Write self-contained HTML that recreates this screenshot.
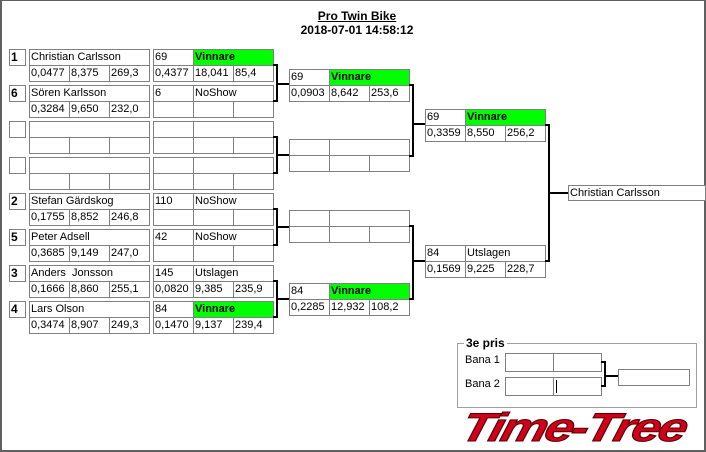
<!DOCTYPE html>
<html><head><meta charset="utf-8"><style>
html,body{margin:0;padding:0;background:#fff}
#w{position:relative;width:706px;height:452px;overflow:hidden;font-family:"Liberation Sans",sans-serif;font-size:11px;color:#000}
.c{position:absolute;border:1px solid #808080;box-sizing:border-box;height:17px;line-height:15px;padding-left:1px;background:#fff;white-space:nowrap;overflow:hidden}
.g{background:#00ff00;font-weight:bold}
.s{font-weight:bold;font-size:12px}
.l{position:absolute;background:#000}
</style></head><body><div id="w">
<div style="position:absolute;left:0;top:0;width:706px;height:452px;box-sizing:border-box;border-left:2px solid #606060;border-top:1px solid #606060;border-right:2px solid #606060;border-bottom:2px solid #606060"></div>
<div style="position:absolute;left:0;width:714px;top:9px;text-align:center;font-weight:bold;font-size:12px;line-height:14px"><span style="text-decoration:underline">Pro Twin Bike</span><br>2018-07-01 14:58:12</div>

<div class="c s" style="left:9px;top:49px;width:17px">1</div>
<div class="c" style="left:29px;top:49px;width:121px">Christian Carlsson</div>
<div class="c" style="left:29px;top:65px;width:41px">0,0477</div><div class="c" style="left:69px;top:65px;width:41px">8,375</div><div class="c" style="left:109px;top:65px;width:41px">269,3</div>
<div class="c" style="left:153px;top:49px;width:41px">69</div><div class="c g" style="left:193px;top:49px;width:81px">Vinnare</div>
<div class="c" style="left:153px;top:65px;width:41px">0,4377</div><div class="c" style="left:193px;top:65px;width:41px">18,041</div><div class="c" style="left:233px;top:65px;width:41px">85,4</div>

<div class="c s" style="left:9px;top:85px;width:17px">6</div>
<div class="c" style="left:29px;top:85px;width:121px">Sören Karlsson</div>
<div class="c" style="left:29px;top:101px;width:41px">0,3284</div><div class="c" style="left:69px;top:101px;width:41px">9,650</div><div class="c" style="left:109px;top:101px;width:41px">232,0</div>
<div class="c" style="left:153px;top:85px;width:41px">6</div><div class="c" style="left:193px;top:85px;width:81px">NoShow</div>
<div class="c" style="left:153px;top:101px;width:41px"></div><div class="c" style="left:193px;top:101px;width:41px"></div><div class="c" style="left:233px;top:101px;width:41px"></div>

<div class="c s" style="left:9px;top:121px;width:17px"></div>
<div class="c" style="left:29px;top:121px;width:121px"></div>
<div class="c" style="left:29px;top:137px;width:41px"></div><div class="c" style="left:69px;top:137px;width:41px"></div><div class="c" style="left:109px;top:137px;width:41px"></div>
<div class="c" style="left:153px;top:121px;width:41px"></div><div class="c" style="left:193px;top:121px;width:81px"></div>
<div class="c" style="left:153px;top:137px;width:41px"></div><div class="c" style="left:193px;top:137px;width:41px"></div><div class="c" style="left:233px;top:137px;width:41px"></div>

<div class="c s" style="left:9px;top:157px;width:17px"></div>
<div class="c" style="left:29px;top:157px;width:121px"></div>
<div class="c" style="left:29px;top:173px;width:41px"></div><div class="c" style="left:69px;top:173px;width:41px"></div><div class="c" style="left:109px;top:173px;width:41px"></div>
<div class="c" style="left:153px;top:157px;width:41px"></div><div class="c" style="left:193px;top:157px;width:81px"></div>
<div class="c" style="left:153px;top:173px;width:41px"></div><div class="c" style="left:193px;top:173px;width:41px"></div><div class="c" style="left:233px;top:173px;width:41px"></div>

<div class="c s" style="left:9px;top:193px;width:17px">2</div>
<div class="c" style="left:29px;top:193px;width:121px">Stefan Gärdskog</div>
<div class="c" style="left:29px;top:209px;width:41px">0,1755</div><div class="c" style="left:69px;top:209px;width:41px">8,852</div><div class="c" style="left:109px;top:209px;width:41px">246,8</div>
<div class="c" style="left:153px;top:193px;width:41px">110</div><div class="c" style="left:193px;top:193px;width:81px">NoShow</div>
<div class="c" style="left:153px;top:209px;width:41px"></div><div class="c" style="left:193px;top:209px;width:41px"></div><div class="c" style="left:233px;top:209px;width:41px"></div>

<div class="c s" style="left:9px;top:229px;width:17px">5</div>
<div class="c" style="left:29px;top:229px;width:121px">Peter Adsell</div>
<div class="c" style="left:29px;top:245px;width:41px">0,3685</div><div class="c" style="left:69px;top:245px;width:41px">9,149</div><div class="c" style="left:109px;top:245px;width:41px">247,0</div>
<div class="c" style="left:153px;top:229px;width:41px">42</div><div class="c" style="left:193px;top:229px;width:81px">NoShow</div>
<div class="c" style="left:153px;top:245px;width:41px"></div><div class="c" style="left:193px;top:245px;width:41px"></div><div class="c" style="left:233px;top:245px;width:41px"></div>

<div class="c s" style="left:9px;top:265px;width:17px">3</div>
<div class="c" style="left:29px;top:265px;width:121px">Anders&nbsp; Jonsson</div>
<div class="c" style="left:29px;top:281px;width:41px">0,1666</div><div class="c" style="left:69px;top:281px;width:41px">8,860</div><div class="c" style="left:109px;top:281px;width:41px">255,1</div>
<div class="c" style="left:153px;top:265px;width:41px">145</div><div class="c" style="left:193px;top:265px;width:81px">Utslagen</div>
<div class="c" style="left:153px;top:281px;width:41px">0,0820</div><div class="c" style="left:193px;top:281px;width:41px">9,385</div><div class="c" style="left:233px;top:281px;width:41px">235,9</div>

<div class="c s" style="left:9px;top:301px;width:17px">4</div>
<div class="c" style="left:29px;top:301px;width:121px">Lars Olson</div>
<div class="c" style="left:29px;top:317px;width:41px">0,3474</div><div class="c" style="left:69px;top:317px;width:41px">8,907</div><div class="c" style="left:109px;top:317px;width:41px">249,3</div>
<div class="c" style="left:153px;top:301px;width:41px">84</div><div class="c g" style="left:193px;top:301px;width:81px">Vinnare</div>
<div class="c" style="left:153px;top:317px;width:41px">0,1470</div><div class="c" style="left:193px;top:317px;width:41px">9,137</div><div class="c" style="left:233px;top:317px;width:41px">239,4</div>

<div class="c" style="left:289px;top:69px;width:41px">69</div><div class="c g" style="left:329px;top:69px;width:81px">Vinnare</div>
<div class="c" style="left:289px;top:85px;width:41px">0,0903</div><div class="c" style="left:329px;top:85px;width:41px">8,642</div><div class="c" style="left:369px;top:85px;width:41px">253,6</div>
<div class="c" style="left:289px;top:139px;width:41px"></div><div class="c" style="left:329px;top:139px;width:81px"></div>
<div class="c" style="left:289px;top:155px;width:41px"></div><div class="c" style="left:329px;top:155px;width:41px"></div><div class="c" style="left:369px;top:155px;width:41px"></div>
<div class="c" style="left:289px;top:210px;width:41px"></div><div class="c" style="left:329px;top:210px;width:81px"></div>
<div class="c" style="left:289px;top:226px;width:41px"></div><div class="c" style="left:329px;top:226px;width:41px"></div><div class="c" style="left:369px;top:226px;width:41px"></div>
<div class="c" style="left:289px;top:283px;width:41px">84</div><div class="c g" style="left:329px;top:283px;width:81px">Vinnare</div>
<div class="c" style="left:289px;top:299px;width:41px">0,2285</div><div class="c" style="left:329px;top:299px;width:41px">12,932</div><div class="c" style="left:369px;top:299px;width:41px">108,2</div>

<div class="c" style="left:425px;top:109px;width:41px">69</div><div class="c g" style="left:465px;top:109px;width:81px">Vinnare</div>
<div class="c" style="left:425px;top:125px;width:41px">0,3359</div><div class="c" style="left:465px;top:125px;width:41px">8,550</div><div class="c" style="left:505px;top:125px;width:41px">256,2</div>
<div class="c" style="left:425px;top:245px;width:41px">84</div><div class="c" style="left:465px;top:245px;width:81px">Utslagen</div>
<div class="c" style="left:425px;top:261px;width:41px">0,1569</div><div class="c" style="left:465px;top:261px;width:41px">9,225</div><div class="c" style="left:505px;top:261px;width:41px">228,7</div>

<div class="c" style="left:568px;top:185px;width:138px;height:16px;line-height:14px">Christian Carlsson</div>

<div class="l" style="left:273px;top:64px;width:5px;height:2px"></div><div class="l" style="left:273px;top:100px;width:5px;height:2px"></div><div class="l" style="left:276px;top:64px;width:2px;height:38px"></div><div class="l" style="left:276px;top:83px;width:13px;height:2px"></div>
<div class="l" style="left:273px;top:136px;width:5px;height:2px"></div><div class="l" style="left:273px;top:172px;width:5px;height:2px"></div><div class="l" style="left:276px;top:136px;width:2px;height:38px"></div><div class="l" style="left:276px;top:154px;width:13px;height:2px"></div>
<div class="l" style="left:273px;top:208px;width:5px;height:2px"></div><div class="l" style="left:273px;top:244px;width:5px;height:2px"></div><div class="l" style="left:276px;top:208px;width:2px;height:38px"></div><div class="l" style="left:276px;top:226px;width:13px;height:2px"></div>
<div class="l" style="left:273px;top:280px;width:5px;height:2px"></div><div class="l" style="left:273px;top:316px;width:5px;height:2px"></div><div class="l" style="left:276px;top:280px;width:2px;height:38px"></div><div class="l" style="left:276px;top:298px;width:13px;height:2px"></div>
<div class="l" style="left:409px;top:84px;width:5px;height:2px"></div><div class="l" style="left:409px;top:155px;width:5px;height:2px"></div><div class="l" style="left:412px;top:84px;width:2px;height:73px"></div><div class="l" style="left:412px;top:123px;width:13px;height:2px"></div>
<div class="l" style="left:409px;top:225px;width:5px;height:2px"></div><div class="l" style="left:409px;top:298px;width:5px;height:2px"></div><div class="l" style="left:412px;top:225px;width:2px;height:75px"></div><div class="l" style="left:412px;top:260px;width:13px;height:2px"></div>
<div class="l" style="left:545px;top:124px;width:5px;height:2px"></div><div class="l" style="left:545px;top:260px;width:5px;height:2px"></div><div class="l" style="left:548px;top:124px;width:2px;height:138px"></div><div class="l" style="left:548px;top:192px;width:20px;height:2px"></div>

<div style="position:absolute;left:457px;top:343px;width:240px;height:65px;border:1px solid #a0a0a0;box-sizing:border-box"></div>
<div style="position:absolute;left:464px;top:336px;padding:0 2px;background:#fff;font-weight:bold;font-size:12px;line-height:14px">3e pris</div>
<div style="position:absolute;left:465px;top:353px;line-height:14px">Bana 1</div>
<div style="position:absolute;left:465px;top:377px;line-height:14px">Bana 2</div>
<div class="c" style="left:505px;top:353px;width:49px;height:19px"></div><div class="c" style="left:553px;top:353px;width:49px;height:19px"></div>
<div class="c" style="left:505px;top:377px;width:49px;height:19px"></div><div class="c" style="left:553px;top:377px;width:49px;height:19px"></div>
<div class="l" style="left:556px;top:380px;width:1px;height:13px"></div>
<div class="l" style="left:601px;top:361px;width:5px;height:2px"></div><div class="l" style="left:601px;top:385px;width:5px;height:2px"></div><div class="l" style="left:604px;top:361px;width:2px;height:26px"></div><div class="l" style="left:604px;top:375px;width:14px;height:2px"></div>
<div class="c" style="left:618px;top:369px;width:72px;height:17px"></div>

<div style="position:absolute;left:462px;top:409px;height:38px;font-family:'Liberation Sans',sans-serif;font-weight:bold;font-style:italic;font-size:40px;line-height:38px;color:#d0001a;-webkit-text-stroke:1px #500;transform:skewX(-15deg) scaleX(1.3);transform-origin:left center;letter-spacing:-2px;white-space:nowrap">Time-Tree</div>
</div></body></html>
